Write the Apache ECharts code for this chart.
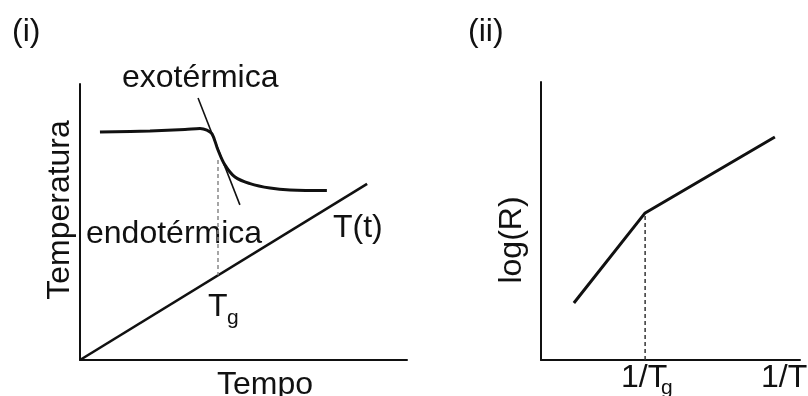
<!DOCTYPE html>
<html>
<head>
<meta charset="utf-8">
<script src="https://cdn.jsdelivr.net/npm/echarts@6/dist/echarts.min.js"></script>
<style>
  html, body { margin: 0; padding: 0; background: #fff; }
  #chart { width: 808px; height: 396px; }
</style>
</head>
<body>
<div id="chart"></div>
<script>
// painel (i): temperatura x tempo (unidades arbitrarias 0-100)
var rampT = [[0, 0], [87.8, 63.8]];
var dscCurve = [
  [6.1, 82.6], [21.4, 83.0], [32.1, 83.5], [36.7, 83.9], [38.8, 83.3],
  [40.4, 81.9], [42.2, 76.1], [44.3, 70.7], [47.4, 66.3], [52.0, 63.9],
  [58.1, 62.3], [64.2, 61.6], [75.5, 61.4]
];
var tangent = [[36.1, 94.9], [48.9, 56.2]];
var tgMark = [[42.2, 72.5], [42.2, 30.7]];

// painel (ii): log(R) x 1/T
var logR = [[12.7, 20.5], [40.2, 52.9], [90.3, 80.2]];
var invTgMark = [[40.2, 0], [40.2, 52.9]];

var FONT = '"Liberation Sans", Arial, sans-serif';
var FS = 32;

function axisStyle(idx) {
  return {
    type: 'value', gridIndex: idx, min: 0, max: 100,
    axisLine: { show: true, onZero: false, lineStyle: { color: '#111', width: 2 } },
    axisTick: { show: false },
    axisLabel: { show: false },
    splitLine: { show: false }
  };
}

function txt(str, x, y, size, rot) {
  return {
    type: 'text', x: x, y: y, rotation: rot || 0,
    style: {
      text: str, fill: '#111', font: (size || FS) + 'px ' + FONT,
      textAlign: rot ? 'center' : 'left', textVerticalAlign: 'middle'
    }
  };
}

var myChart = echarts.init(document.getElementById('chart'));
var option = {
  animation: false,
  backgroundColor: '#fff',
  grid: [
    { left: 80, top: 84, width: 327, height: 276 },
    { left: 541, top: 82, width: 259, height: 278 }
  ],
  xAxis: [axisStyle(0), axisStyle(1)],
  yAxis: [axisStyle(0), axisStyle(1)],
  series: [
    {
      type: 'line', xAxisIndex: 0, yAxisIndex: 0, data: rampT,
      symbol: 'none', lineStyle: { color: '#111', width: 2.6 }
    },
    {
      type: 'line', xAxisIndex: 0, yAxisIndex: 0, data: dscCurve,
      symbol: 'none', smooth: 0.35, lineStyle: { color: '#111', width: 3 }
    },
    {
      type: 'line', xAxisIndex: 0, yAxisIndex: 0, data: tangent,
      symbol: 'none', lineStyle: { color: '#111', width: 1.6 }
    },
    {
      type: 'line', xAxisIndex: 0, yAxisIndex: 0, data: tgMark,
      symbol: 'none', lineStyle: { color: '#888', width: 1.5, type: [4, 3] }
    },
    {
      type: 'line', xAxisIndex: 1, yAxisIndex: 1, data: logR,
      symbol: 'none', lineStyle: { color: '#111', width: 3 }
    },
    {
      type: 'line', xAxisIndex: 1, yAxisIndex: 1, data: invTgMark,
      symbol: 'none', lineStyle: { color: '#333', width: 1.5, type: [4, 3] }
    }
  ],
  graphic: [
    txt('(i)', 12, 32),
    txt('(ii)', 468, 32),
    txt('exotérmica', 122, 78),
    txt('endotérmica', 86, 234),
    txt('T(t)', 333, 228),
    txt('T', 208, 307),
    txt('g', 227, 318, 21),
    txt('Tempo', 217, 385),
    txt('Temperatura', 60, 210, FS, Math.PI / 2),
    txt('log(R)', 512, 240, FS, Math.PI / 2),
    txt('1/T', 621, 378),
    txt('g', 661, 388, 21),
    txt('1/T', 761, 378)
  ]
};
myChart.setOption(option);
</script>
</body>
</html>
